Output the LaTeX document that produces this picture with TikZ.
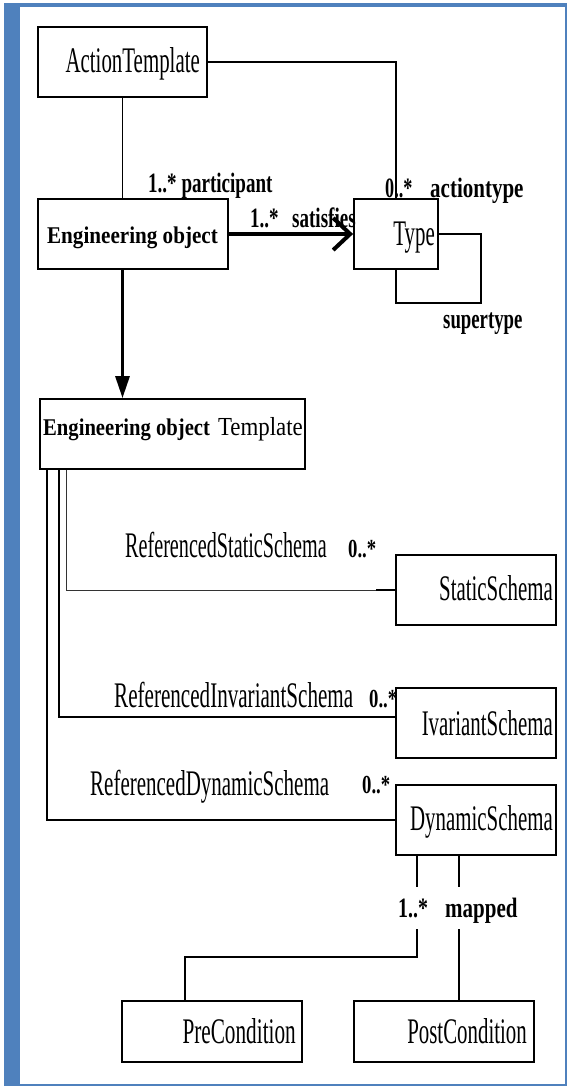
\documentclass[tikz,border=0pt]{standalone}
\usepackage{fontspec}
\usepackage{graphicx}
\setmainfont{Liberation Serif}
\usetikzlibrary{arrows.meta}
\definecolor{frameblue}{RGB}{79,129,189}
% horizontally condensed text
\newcommand\hsq[2]{\scalebox{#1}[1]{#2}}
\begin{document}
\begin{tikzpicture}[x=1pt, y=-1pt,
  box/.style={draw=black, line width=1.8pt, fill=white, inner sep=0pt},
  link/.style={draw=black, line width=1.3pt},
  thinlink/.style={draw=black!80, line width=0.9pt},
  reg/.style={inner sep=0pt, font=\fontsize{36}{40}\selectfont},
  lbl/.style={inner sep=0pt, font=\fontsize{28}{30}\selectfont\bfseries},
  midlbl/.style={inner sep=0pt, font=\fontsize{26}{28}\selectfont\bfseries},
  boxbold/.style={inner sep=0pt, font=\fontsize{24}{26}\selectfont\bfseries},
  boxreg/.style={inner sep=0pt, font=\fontsize{26}{28}\selectfont}]
\useasboundingbox (0,0) rectangle (567,1087);

% page frame
\fill[frameblue] (4,3) rectangle (20,1086);
\fill[frameblue] (4,3) rectangle (566.5,7);
\fill[frameblue] (564.5,3) rectangle (566.5,1086);
\fill[frameblue] (4,1084) rectangle (566.5,1086);

% classes
\node[box, minimum width=169pt, minimum height=70pt] (AT) at (122.5,62) {};
\node[box, minimum width=190pt, minimum height=70pt] (EO) at (133,234) {};
\node[box, minimum width=84pt, minimum height=70pt] (Type) at (396,234) {};
\node[box, minimum width=265pt, minimum height=70pt] (EOT) at (172.5,434) {};
\node[box, minimum width=160pt, minimum height=70pt] (Static) at (476,590) {};
\node[box, minimum width=160pt, minimum height=70pt] (Inv) at (476,723) {};
\node[box, minimum width=160pt, minimum height=70pt] (Dyn) at (476,820) {};
\node[box, minimum width=180pt, minimum height=61pt] (Pre) at (212,1031.5) {};
\node[box, minimum width=180pt, minimum height=61pt] (Post) at (444,1031.5) {};

% class names
\node[reg, anchor=base east] (tAT) at (200,72) {\hsq{0.58}{ActionTemplate}};
\node[boxbold, anchor=base] (tEO) at (132.5,243) {\hsq{0.88}{Engineering object}};
\node[reg, anchor=base east] (tType) at (435,245) {\hsq{0.58}{Type}};
\node[boxbold, anchor=base west] (tEOTa) at (43,435) {\hsq{0.86}{Engineering object}};
\node[boxreg, anchor=base east] (tEOTb) at (303,435) {\hsq{0.88}{Template}};
\node[reg, anchor=base east] (tStatic) at (553,600) {\hsq{0.58}{StaticSchema}};
\node[reg, anchor=base east] (tInv) at (553,735) {\hsq{0.58}{IvariantSchema}};
\node[reg, anchor=base east] (tDyn) at (553,830) {\hsq{0.58}{DynamicSchema}};
\node[reg, anchor=base east] (tPre) at (296,1043) {\hsq{0.59}{PreCondition}};
\node[reg, anchor=base east] (tPost) at (527,1043) {\hsq{0.58}{PostCondition}};

% associations
\draw[link] (AT.south) -- (AT.south |- EO.north);
\draw[link] (AT.east) -| (Type.north);
\draw[link] (Type.east) -- ++(42,0) -- ++(0,69) -| (Type.south);
\draw[line width=4pt, -{Straight Barb[length=17pt, width=32pt, line width=4pt]}]
  (EO.east) -- (Type.west);
\draw[line width=3pt, -{Triangle[length=22pt, width=14pt]}]
  (AT.south |- EO.south) -- (AT.south |- EOT.north);

% schema references
\coordinate (sjoin) at (376,590);
\draw[thinlink] ([xshift=27pt]EOT.south west) |- (sjoin);
\draw[link] (sjoin) -- (Static.west);
\draw[link] ([xshift=20pt]EOT.south west) |- ([yshift=6pt]Inv.west);
\draw[link] ([xshift=8pt]EOT.south west) |- (Dyn.west);

% pre / post conditions
\coordinate (preTop) at (417,887);
\coordinate (preBot) at (417,929);
\coordinate (preBend) at (417,957);
\coordinate (postTop) at (459,887);
\coordinate (postBot) at (459,929);
\draw[link] (Dyn.south -| preTop) -- (preTop);
\draw[link] (Dyn.south -| postTop) -- (postTop);
\draw[link] (preBot) -- (preBend) -| ([xshift=64pt]Pre.north west);
\draw[link] (postBot) -- (postBot |- Post.north);

% role names and multiplicities
\node[lbl, anchor=base west] (lPart) at (148,192) {\hsq{0.68}{1..* participant}};
\node[lbl, anchor=base west] (lSatM) at (250,227) {\hsq{0.68}{1..*}};
\node[lbl, anchor=base west] (lSat) at (292,227) {\hsq{0.68}{satisfies}};
\node[lbl, anchor=base west] (lActM) at (385,197) {\hsq{0.65}{0..*}};
\node[lbl, anchor=base west] (lAct) at (430,197) {\hsq{0.75}{actiontype}};
\node[lbl, anchor=base west] (lSuper) at (443,328) {\hsq{0.67}{supertype}};
\node[reg, anchor=base west] (lRS) at (125,557) {\hsq{0.56}{ReferencedStaticSchema}};
\node[midlbl, anchor=base west] (lRSM) at (348,557) {\hsq{0.72}{0..*}};
\node[reg, anchor=base west] (lRI) at (114,707) {\hsq{0.586}{ReferencedInvariantSchema}};
\node[midlbl, anchor=base west] (lRIM) at (369,707) {\hsq{0.72}{0..*}};
\node[reg, anchor=base west] (lRD) at (90,795) {\hsq{0.583}{ReferencedDynamicSchema}};
\node[midlbl, anchor=base west] (lRDM) at (362,793) {\hsq{0.72}{0..*}};
\node[lbl, anchor=base west] (lMapM) at (398,917) {\hsq{0.71}{1..*}};
\node[lbl, anchor=base west] (lMap) at (445,917) {\hsq{0.75}{mapped}};
\end{tikzpicture}
\end{document}
